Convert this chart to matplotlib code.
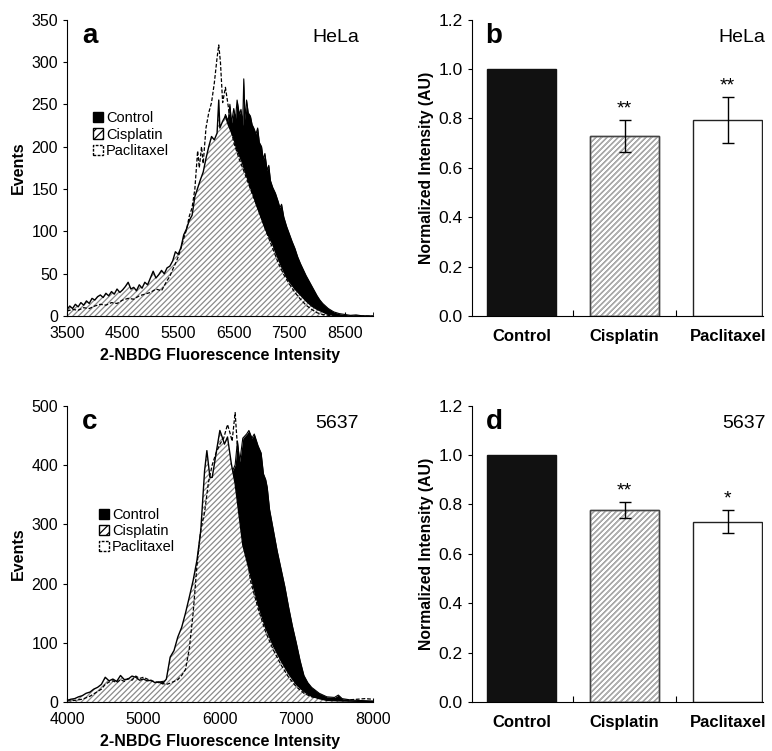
import matplotlib.pyplot as plt
from matplotlib.patches import Patch
from matplotlib.ticker import MultipleLocator, FormatStrFormatter

plt.rcParams['font.family'] = ['Liberation Sans', 'DejaVu Sans']
plt.rcParams['hatch.linewidth'] = 0.9

# ---- panel a: HeLa histograms ----
a_cis_x = [3500, 3550, 3600, 3650, 3700, 3750, 3800, 3850, 3900, 3950, 4000, 4050, 4100, 4150,
           4200, 4250, 4300, 4350, 4400, 4450, 4500, 4550, 4600, 4650, 4700, 4750, 4800, 4850,
           4900, 4950, 5000, 5050, 5100, 5150, 5200, 5250, 5300, 5350, 5400, 5450, 5500, 5550,
           5600, 5650, 5700, 5750, 5800, 5850, 5900, 5950, 6000, 6050, 6100, 6150, 6200, 6230,
           6250, 6300, 6350, 6400, 6450, 6500, 6550, 6600, 6650, 6700, 6750, 6800, 6850, 6900,
           6950, 7000, 7050, 7100, 7150, 7200, 7250, 7300, 7350, 7400, 7450, 7500, 7600, 7700,
           7800, 7900, 8000, 8100, 8200, 8300, 8500, 9000]
a_cis_y = [8, 12, 9, 14, 11, 16, 13, 18, 15, 21, 19, 23, 25, 22, 27, 24, 29, 26, 32, 28, 31, 35,
           40, 32, 34, 30, 37, 33, 40, 37, 45, 53, 45, 49, 54, 50, 57, 59, 65, 76, 73, 81, 96,
           103, 113, 119, 141, 151, 161, 170, 186, 200, 212, 208, 216, 255, 222, 230, 236, 226,
           218, 210, 198, 190, 182, 172, 162, 152, 143, 133, 124, 115, 106, 98, 92, 85, 76, 68,
           60, 53, 46, 41, 32, 25, 18, 12, 8, 5, 2, 1, 0, 0]

a_pac_x = [3500, 3600, 3700, 3800, 3900, 4000, 4100, 4200, 4300, 4400, 4500, 4600, 4700, 4800,
           4900, 5000, 5100, 5200, 5250, 5300, 5350, 5400, 5450, 5500, 5550, 5600, 5650, 5700,
           5750, 5800, 5850, 5880, 5920, 5950, 6000, 6050, 6100, 6150, 6200, 6230, 6260, 6300,
           6350, 6400, 6450, 6500, 6550, 6600, 6700, 6800, 6900, 7000, 7100, 7200, 7300, 7400,
           7500, 7600, 7700, 7800, 7900, 8000, 8100, 8200, 8400, 9000]
a_pac_y = [6, 8, 7, 10, 9, 12, 14, 13, 16, 15, 19, 21, 20, 24, 26, 28, 32, 30, 36, 42, 47, 55,
           62, 70, 80, 92, 102, 118, 128, 150, 195, 175, 200, 180, 222, 240, 252, 275, 305, 320,
           300, 252, 270, 248, 222, 205, 195, 185, 168, 150, 133, 116, 97, 80, 63, 49, 38, 28,
           20, 13, 8, 4, 2, 1, 0, 0]

a_ctl_x = [3500, 4000, 4500, 5000, 5500, 5800, 6000, 6200, 6300, 6350, 6400, 6430, 6460, 6500,
           6530, 6560, 6600, 6630, 6660, 6680, 6700, 6730, 6760, 6800, 6830, 6860, 6900, 6930,
           6960, 7000, 7030, 7060, 7100, 7130, 7160, 7200, 7250, 7300, 7330, 7360, 7400, 7450,
           7500, 7550, 7600, 7650, 7700, 7750, 7800, 7850, 7900, 7950, 8000, 8050, 8100, 8150,
           8200, 8250, 8300, 8400, 8500, 8600, 8700, 8800, 9000]
a_ctl_y = [3, 6, 10, 18, 40, 80, 130, 190, 220, 238, 230, 250, 228, 245, 232, 255, 238, 244,
           225, 280, 232, 255, 240, 236, 226, 222, 215, 222, 205, 200, 185, 192, 172, 178, 160,
           152, 145, 135, 128, 132, 117, 106, 97, 88, 80, 70, 62, 55, 48, 42, 36, 30, 24, 19,
           15, 12, 9, 7, 5, 3, 2, 1, 1.5, 0.5, 0]

# ---- panel c: 5637 histograms ----
c_cis_x = [4000, 4050, 4100, 4150, 4200, 4250, 4300, 4350, 4400, 4450, 4500, 4550, 4600, 4650,
           4700, 4750, 4800, 4850, 4900, 4950, 5000, 5050, 5100, 5150, 5200, 5250, 5300, 5350,
           5400, 5450, 5500, 5550, 5600, 5650, 5700, 5750, 5800, 5830, 5870, 5900, 5950, 6000,
           6030, 6060, 6100, 6150, 6200, 6300, 6400, 6500, 6600, 6700, 6800, 6900, 7000, 7100,
           7200, 7300, 7400, 7600, 8000]
c_cis_y = [3, 5, 6, 9, 11, 15, 17, 22, 25, 30, 42, 36, 39, 35, 45, 38, 39, 44, 42, 37, 39, 36,
           37, 33, 34, 31, 39, 76, 87, 110, 126, 150, 177, 205, 239, 289, 390, 424, 379, 379,
           419, 458, 447, 435, 447, 402, 368, 265, 215, 165, 125, 95, 70, 48, 30, 18, 10, 6, 3,
           2, 1]

c_pac_x = [4000, 4100, 4200, 4300, 4400, 4450, 4500, 4550, 4600, 4650, 4700, 4750, 4800, 4850,
           4900, 4950, 5000, 5050, 5100, 5200, 5300, 5350, 5400, 5450, 5500, 5550, 5600, 5650,
           5700, 5750, 5800, 5850, 5900, 5950, 6000, 6050, 6100, 6130, 6160, 6200, 6230, 6260,
           6300, 6400, 6500, 6600, 6700, 6800, 6900, 7000, 7100, 7200, 7400, 7600, 7800, 7900,
           8000]
c_pac_y = [2, 3, 5, 10, 18, 22, 30, 34, 36, 33, 38, 35, 40, 37, 44, 40, 42, 39, 36, 33, 30, 32,
           35, 38, 45, 55, 90, 150, 230, 290, 320, 370, 400, 420, 435, 445, 468, 455, 440, 488,
           430, 400, 300, 205, 158, 118, 88, 63, 42, 26, 15, 9, 4, 3, 5, 6, 5]

c_ctl_x = [4000, 4500, 5000, 5500, 5700, 5900, 6000, 6100, 6150, 6200, 6230, 6260, 6300, 6350,
           6380, 6420, 6450, 6500, 6540, 6570, 6600, 6620, 6650, 6700, 6750, 6800, 6850, 6900,
           6950, 7000, 7050, 7100, 7150, 7200, 7250, 7300, 7350, 7400, 7500, 7550, 7600, 7700,
           7800, 8000]
c_ctl_y = [2, 15, 30, 40, 120, 250, 320, 370, 385, 400, 440, 405, 445, 452, 458, 445, 452, 432,
           420, 385, 375, 362, 325, 290, 255, 225, 195, 160, 128, 100, 70, 45, 33, 25, 20, 15,
           12, 9, 8, 12, 6, 4, 3, 2]

# ---- panels b, d: bar charts ----
groups = ['Control', 'Cisplatin', 'Paclitaxel']
b_mean = [1.0, 0.73, 0.795]
b_err = [0.0, 0.064, 0.093]
b_star = ['', '**', '**']
d_mean = [1.0, 0.778, 0.73]
d_err = [0.0, 0.033, 0.046]
d_star = ['', '**', '*']

fig = plt.figure(figsize=(7.72, 7.51), dpi=100)
ax_a = fig.add_axes([0.0868, 0.579, 0.396, 0.395])
ax_b = fig.add_axes([0.611, 0.579, 0.377, 0.395])
ax_c = fig.add_axes([0.0868, 0.065, 0.396, 0.395])
ax_d = fig.add_axes([0.611, 0.065, 0.377, 0.395])


def hist_panel(ax, ctl, cis, pac, xlim, xticks, ylim, ystep, letter, cell, leg_pos):
    ax.fill_between(ctl[0], ctl[1], color='black', lw=0, zorder=1)
    ax.plot(ctl[0], ctl[1], color='black', lw=0.8, zorder=1)
    ax.fill_between(cis[0], cis[1], facecolor='white', edgecolor='#8a8a8a', hatch='//////',
                    lw=0, zorder=2)
    ax.plot(cis[0], cis[1], color='black', lw=1.0, zorder=3)
    ax.plot(pac[0], pac[1], color='black', lw=0.9, ls=(0, (3, 1.5)), zorder=3)
    ax.set_xlim(*xlim)
    ax.set_ylim(*ylim)
    ax.set_xticks(xticks)
    ax.xaxis.set_minor_locator(MultipleLocator(500))
    ax.yaxis.set_major_locator(MultipleLocator(ystep))
    ax.tick_params(axis='x', direction='in', length=3, labelsize=11.5, pad=7)
    ax.tick_params(axis='x', which='minor', direction='in', length=3)
    ax.tick_params(axis='y', direction='out', length=3, labelsize=11.5)
    for s in ['top', 'right']:
        ax.spines[s].set_visible(False)
    ax.set_xlabel('2-NBDG Fluorescence Intensity', fontsize=11.5, fontweight='bold', labelpad=5)
    ax.set_ylabel('Events', fontsize=11.5, fontweight='bold', labelpad=4)
    ax.text(0.05, 0.945, letter, transform=ax.transAxes, fontsize=20, fontweight='bold',
            va='center', ha='left')
    ax.text(0.955, 0.94, cell, transform=ax.transAxes, fontsize=14, va='center', ha='right')
    handles = [Patch(facecolor='black', edgecolor='black'),
               Patch(facecolor='white', edgecolor='black', hatch='////'),
               Patch(facecolor='white', edgecolor='black', ls=(0, (2, 1)))]
    ax.legend(handles, ['Control', 'Cisplatin', 'Paclitaxel'], loc='upper left',
              bbox_to_anchor=leg_pos, frameon=False, fontsize=10.5, handlelength=0.7,
              handleheight=0.7, handletextpad=0.2, labelspacing=0.15, borderpad=0,
              borderaxespad=0)


hist_panel(ax_a, (a_ctl_x, a_ctl_y), (a_cis_x, a_cis_y), (a_pac_x, a_pac_y),
           (3500, 9000), range(3500, 9000, 1000), (0, 350), 50, 'a', 'HeLa', (0.085, 0.69))
hist_panel(ax_c, (c_ctl_x, c_ctl_y), (c_cis_x, c_cis_y), (c_pac_x, c_pac_y),
           (4000, 8000), range(4000, 8001, 1000), (0, 500), 100, 'c', '5637', (0.105, 0.655))


def bar_panel(ax, means, errs, stars, letter, cell):
    pos = range(len(groups))
    faces = ['#111111', 'white', 'white']
    hatches = [None, '//////', None]
    edges = ['#111111', '#444444', '#222222']
    for i in pos:
        ax.bar(i, means[i], width=0.67, color=faces[i], edgecolor=edges[i], lw=1.0,
               hatch=hatches[i], zorder=2)
        if hatches[i]:
            ax.bar(i, means[i], width=0.67, facecolor='none', edgecolor='#b5b5b5', lw=0,
                   hatch=hatches[i], zorder=2)
            ax.bar(i, means[i], width=0.67, facecolor='none', edgecolor='#444444', lw=1.0,
                   zorder=3)
        if errs[i] > 0:
            ax.errorbar(i, means[i], yerr=errs[i], color='black', capsize=4.5, lw=1.0,
                        capthick=1.0, zorder=4)
            ax.text(i, means[i] + errs[i] + 0.045, stars[i], ha='center', va='center',
                    fontsize=14)
    ax.set_xlim(-0.485, 2.34)
    ax.set_ylim(0, 1.2)
    ax.yaxis.set_major_locator(MultipleLocator(0.2))
    ax.yaxis.set_major_formatter(FormatStrFormatter('%.1f'))
    ax.set_xticks([0.5, 1.5])
    ax.set_xticklabels([])
    ax.tick_params(axis='x', direction='in', length=4)
    ax.tick_params(axis='y', direction='out', length=3, labelsize=12.5)
    for i in pos:
        ax.text(i, -0.07, groups[i], ha='center', va='center', fontsize=12,
                fontweight='bold', transform=ax.get_xaxis_transform())
    for s in ['top', 'right']:
        ax.spines[s].set_visible(False)
    ax.set_ylabel('Normalized Intensity (AU)', fontsize=11.3, fontweight='bold', labelpad=3)
    ax.text(0.048, 0.945, letter, transform=ax.transAxes, fontsize=20, fontweight='bold',
            va='center', ha='left')
    ax.text(1.01, 0.94, cell, transform=ax.transAxes, fontsize=14, va='center', ha='right')


bar_panel(ax_b, b_mean, b_err, b_star, 'b', 'HeLa')
bar_panel(ax_d, d_mean, d_err, d_star, 'd', '5637')

fig.savefig('out.png', dpi=100)
